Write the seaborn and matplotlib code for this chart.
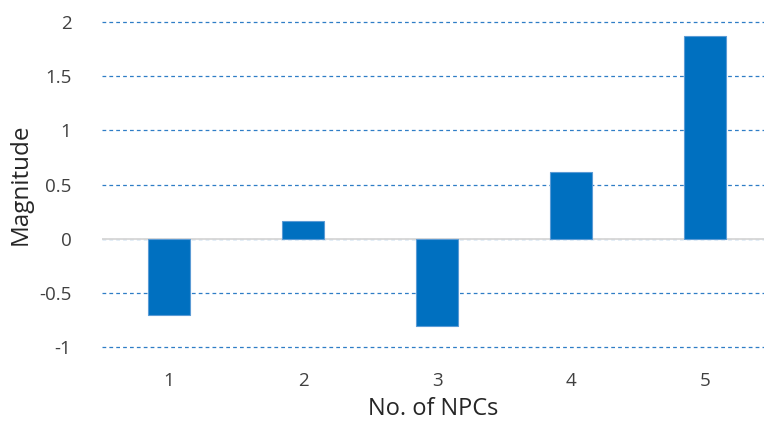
import seaborn as sns
import matplotlib.pyplot as plt
import pandas as pd

npcs = ['1', '2', '3', '4', '5']
magnitude = [-0.70, 0.16, -0.81, 0.62, 1.87]
y_ticks = [-1, -0.5, 0, 0.5, 1, 1.5, 2]
y_labels = ['-1', '-0.5', '0', '0.5', '1', '1.5', '2']

df = pd.DataFrame({'NPC': npcs, 'Magnitude': magnitude})

sns.set_style('white')
plt.rcParams['font.family'] = ['Open Sans', 'DejaVu Sans']

fig = plt.figure(figsize=(7.64, 4.29), dpi=100)
ax = fig.add_axes([102 / 764, 1 - 347 / 429, 662 / 764, 325 / 429])

sns.barplot(data=df, x='NPC', y='Magnitude', color='#0070C0', saturation=1,
            width=0.31, edgecolor='#5B9BD5', linewidth=0.8, ax=ax, zorder=3)

ax.set_ylim(-1, 2)
ax.set_xlim(-0.5, 4.44)
ax.set_yticks(y_ticks)
ax.set_yticklabels(y_labels)
ax.yaxis.grid(True, linestyle=(0, (3, 2.5)), color='#2E7DC6', linewidth=0.9, zorder=0)
for gl in ax.yaxis.get_gridlines():
    gl.set_clip_on(False)
ax.axhline(0, color='#D9D9D9', linewidth=1.4, zorder=2)
for s in ax.spines.values():
    s.set_visible(False)
ax.tick_params(axis='both', length=0, labelsize=13.5, colors='#404040')
ax.tick_params(axis='y', pad=22)
ax.tick_params(axis='x', pad=18)
ax.set_xlabel('No. of NPCs', fontsize=17, color='#262626', labelpad=5)
ax.set_ylabel('Magnitude', fontsize=17.5, color='#262626')
ax.yaxis.set_label_coords(-0.105, 0.5)

fig.savefig('out.png', dpi=100)
